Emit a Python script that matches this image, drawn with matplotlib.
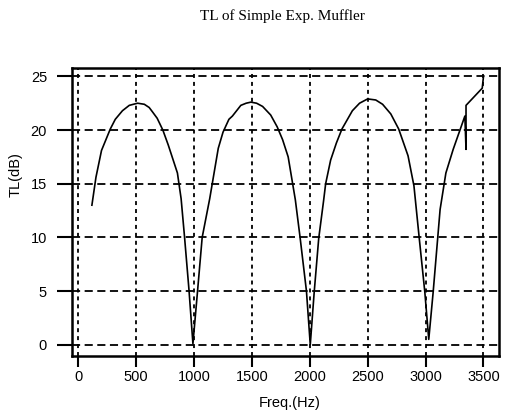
import matplotlib
matplotlib.use("Agg")
import matplotlib.pyplot as plt
from matplotlib.ticker import FixedLocator

title = "TL of Simple Exp. Muffler"
x_label = "Freq.(Hz)"
y_label = "TL(dB)"

freq_hz = [117, 152, 200, 276, 319, 381, 440, 512, 570, 612, 640, 681, 730, 777,
           856, 888, 917, 956, 990, 1030, 1070, 1135, 1209, 1250, 1301, 1331,
           1404, 1450, 1491, 1540, 1592, 1662, 1718, 1765, 1813, 1875, 1916, 1971,
           2004, 2038, 2077, 2119, 2137, 2180, 2230, 2278, 2368, 2430, 2500, 2570,
           2629, 2700, 2768, 2849, 2900, 2946, 2994, 3028, 3066, 3126, 3176, 3239,
           3301, 3340, 3350, 3350, 3490, 3500]
tl_db = [13.0, 15.6, 18.1, 20.1, 21.0, 21.8, 22.3, 22.5, 22.4, 22.1, 21.7, 21.1,
         20.0, 18.6, 16.0, 13.6, 10.1, 5.1, 0.1, 5.0, 10.0, 13.6, 18.3, 19.8,
         21.0, 21.3, 22.3, 22.5, 22.6, 22.5, 22.2, 21.4, 20.3, 19.1, 17.5, 13.5,
         10.0, 5.0, 0.0, 4.9, 9.9, 13.4, 15.0, 17.2, 18.8, 20.1, 21.8, 22.5, 22.9,
         22.8, 22.4, 21.5, 20.1, 17.6, 14.8, 9.9, 4.9, 0.5, 4.9, 12.6, 16.0, 18.2,
         20.1, 21.3, 18.2, 22.3, 23.9, 24.9]

x_ticks = [0, 500, 1000, 1500, 2000, 2500, 3000, 3500]
y_ticks = [0, 5, 10, 15, 20, 25]

sans = ["Liberation Sans Narrow", "Liberation Sans", "DejaVu Sans"]
serif = ["Liberation Serif", "DejaVu Serif"]

fig = plt.figure(figsize=(5.05, 4.16), dpi=100)
ax = fig.add_axes([72 / 505, 1 - 356 / 416, 427 / 505, 288 / 416])

ax.plot(freq_hz, tl_db, color="black", linewidth=1.2)

ax.set_xlim(-55, 3635)
ax.set_ylim(-1.05, 25.78)
ax.xaxis.set_major_locator(FixedLocator(x_ticks))
ax.yaxis.set_major_locator(FixedLocator(y_ticks))

ax.grid(False)
for xv in x_ticks:
    ax.axvline(xv, color="black", linewidth=1.3, linestyle=(0, (2.2, 2.2)), zorder=0.5)
for yv in y_ticks:
    ax.axhline(yv, color="black", linewidth=1.3, linestyle=(0, (4.5, 2.5)), zorder=0.5)

for s in ax.spines.values():
    s.set_linewidth(1.8)
    s.set_color("black")

ax.tick_params(axis="x", direction="out", length=8, width=1.5, pad=2,
               labelsize=10.5, colors="black")
ax.tick_params(axis="y", direction="out", length=11, width=1.5, pad=7,
               labelsize=10.5, colors="black")

ax.set_xticklabels([str(v) for v in x_ticks], family=sans, fontsize=10.5)
ax.set_yticklabels([str(v) for v in y_ticks], family=sans, fontsize=10.5)

fig.text(290 / 505, 1 - 403 / 416, x_label, ha="center", va="center",
         family=sans, fontsize=10.5)
fig.text(16 / 505, 1 - 175 / 416, y_label, ha="center", va="center",
         rotation=90, family=sans, fontsize=10.5)
fig.text(282 / 505, 1 - 16 / 416, title, ha="center", va="center",
         family=serif, fontsize=11)

fig.savefig("out.png", dpi=100)
